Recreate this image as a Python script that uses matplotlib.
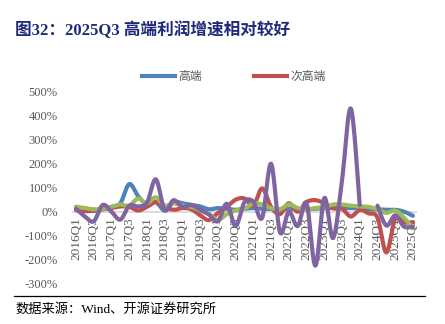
import matplotlib
matplotlib.use("Agg")

import matplotlib.pyplot as plt
from matplotlib.lines import Line2D
import numpy as np


# quarters 2016Q1 .. 2025Q3
quarters = [f"{y}Q{q}" for y in range(2016, 2026) for q in range(1, 5)][:39]

high_end = [15, 8, 3, 12, 20, 35, 115, 65, 30, 40, 5, 40, 35, 28, 22, 10, 15, 12, 8, 12,
            15, 12, 12, 10, 12, 10, 10, 12, 15, 15, 15, 15, 15, 10, 10, 8, 8, 0, -17]
sub_high_end = [7, 2, 5, 10, 15, 22, 20, 5, 20, 40, 20, 8, 15, 10, -15, -35, -5, 20, 50, 55,
                25, 97, 20, -10, 35, 0, 40, 48, 35, 14, 12, -20, 7, -7, -25, -170, -30, -45, -45]
green_series = [21, 15, 10, 12, 20, 30, 25, 55, 35, 60, 25, 35, 25, 20, 5, -10, -35, -10, 5, 12,
                35, 30, 15, 10, 30, 15, 10, 15, 20, 30, 30, 25, 22, 20, 10, -5, 5, -25, -70]
purple_series = [12, -20, -40, 28, 0, -33, 25, 22, 37, 135, 7, 48, 20, 28, 8, -12, -40, 33, -60, 40,
                 42, -25, 200, -85, 0, -60, 35, -225, 57, -110, 130, 430, 27, np.nan, 25, -58, -15, -62, -63]

y_ticks = list(range(-300, 501, 100))

COLORS = {"blue": "#4F81BD", "red": "#C0504D", "green": "#9BBB59", "purple": "#8064A2"}
CJK = ["Noto Sans CJK SC", "DejaVu Sans"]
SERIF_CJK = ["Liberation Serif", "Noto Sans CJK SC"]
SERIF = "Liberation Serif"
GRAY = "#595959"


def smooth_runs(values, steps=14):
    # Excel-like smoothed line (bezier through points), split at gaps
    vals = np.array(values, dtype=float)
    xs = np.arange(len(vals), dtype=float)
    runs, cur = [], []
    for i, v in enumerate(vals):
        if np.isnan(v):
            if cur:
                runs.append(cur)
            cur = []
        else:
            cur.append(i)
    if cur:
        runs.append(cur)

    out = []
    for idx in runs:
        px, py = xs[idx], vals[idx]
        n = len(px)
        if n < 2:
            out.append((px, py))
            continue
        cx, cy = [px[0]], [py[0]]
        t = np.linspace(0, 1, steps)[1:]
        for i in range(n - 1):
            p0 = np.array([px[max(i - 1, 0)], py[max(i - 1, 0)]])
            p1 = np.array([px[i], py[i]])
            p2 = np.array([px[i + 1], py[i + 1]])
            p3 = np.array([px[min(i + 2, n - 1)], py[min(i + 2, n - 1)]])
            c1 = p1 + (p2 - p0) / 6
            c2 = p2 - (p3 - p1) / 6
            for tt in t:
                b = ((1 - tt) ** 3) * p1 + 3 * ((1 - tt) ** 2) * tt * c1 \
                    + 3 * (1 - tt) * tt ** 2 * c2 + tt ** 3 * p2
                cx.append(b[0])
                cy.append(b[1])
        out.append((np.array(cx), np.array(cy)))
    return out


fig = plt.figure(figsize=(4.45, 3.24), dpi=100)
ax = fig.add_axes([0.1609, 0.1244, 0.777, 0.5926])

ax.axhline(0, color="#D9D9D9", lw=1.3, zorder=1)

for name, series in [("blue", high_end), ("red", sub_high_end),
                     ("green", green_series), ("purple", purple_series)]:
    for sx, sy in smooth_runs(series):
        ax.plot(sx, sy, color=COLORS[name], lw=3.0, solid_capstyle="round", zorder=3)

ax.set_xlim(-0.5, len(quarters) - 0.5)
ax.set_ylim(-300, 500)
ax.set_xticks([])
ax.set_yticks(y_ticks)
ax.set_yticklabels([f"{v}%" for v in y_ticks], fontfamily=SERIF, fontsize=9, color=GRAY)
ax.tick_params(axis="y", length=0, pad=10)
for s in ax.spines.values():
    s.set_visible(False)

for i, lab in enumerate(quarters):
    if i % 2 == 0:
        ax.annotate(lab, (i, 0), xytext=(0, -4), textcoords="offset points",
                    rotation=90, ha="center", va="top", fontfamily=SERIF,
                    fontsize=9.5, color=GRAY, zorder=2)

handles = [Line2D([], [], color=COLORS["blue"], lw=3.0),
           Line2D([], [], color=COLORS["red"], lw=3.0)]
fig.legend(handles, ["高端", "次高端"], loc="center", bbox_to_anchor=(0.525, 0.765),
           ncol=2, frameon=False, prop={"family": CJK, "size": 8.5},
           labelcolor=GRAY, handlelength=2.8, handletextpad=0.3, columnspacing=4.4)

fig.text(0.034, 0.907, "图32：2025Q3 高端利润增速相对较好", family=SERIF_CJK, fontsize=12,
         fontweight="bold", color="#1F2A7A", va="center", ha="left")

fig.add_artist(Line2D([14 / 445, 425 / 445], [1 - 296 / 324, 1 - 296 / 324],
                      color="black", lw=0.9, transform=fig.transFigure))
fig.text(0.034, 1 - 309 / 324, "数据来源：Wind、开源证券研究所", family=SERIF_CJK, fontsize=9.5,
         color="black", va="center", ha="left")

fig.savefig("out.png", dpi=100)
